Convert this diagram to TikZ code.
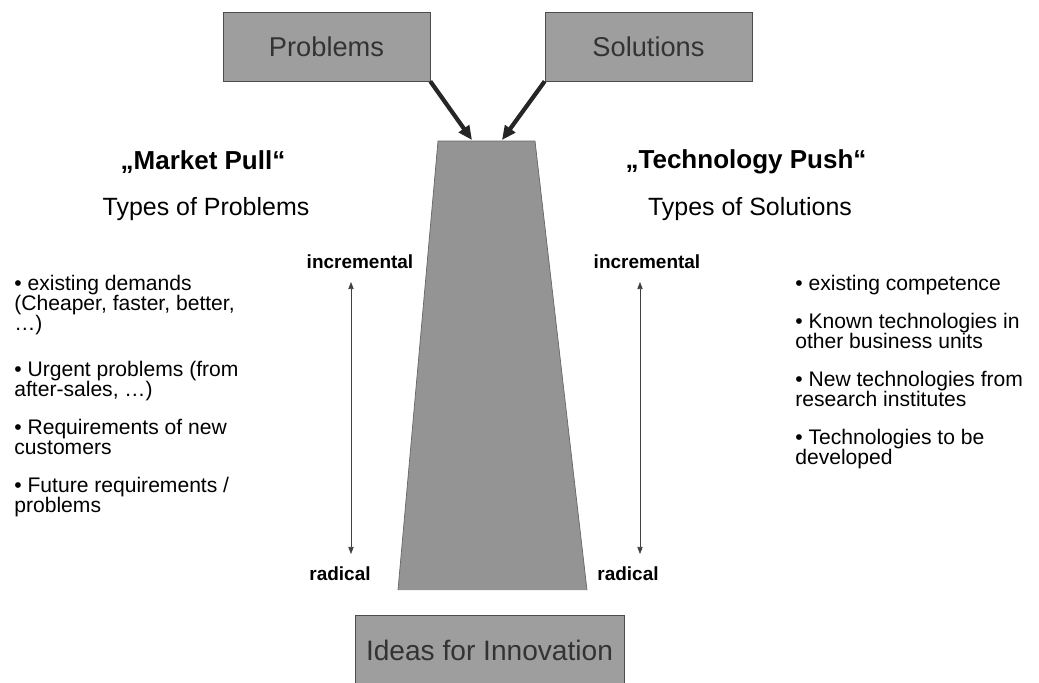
\documentclass[tikz,border=0pt]{standalone}
\usepackage{fontspec}
\setmainfont{Liberation Sans}
\usetikzlibrary{arrows.meta, positioning}

\begin{document}
\begin{tikzpicture}[
  x=0.02cm, y=-0.02cm,
  box/.style={draw=black!70, fill=black!38, minimum width=4.14cm, minimum height=1.38cm, font=\fontsize{15.5}{17}\selectfont, text=black!80},
  push/.style={-{Triangle[length=8pt,width=7pt]}, line width=2.4pt, black!85},
  spanarrow/.style={{Triangle[length=4pt,width=3pt]}-{Triangle[length=4pt,width=3pt]}, black!75, thin},
  head/.style={font=\bfseries\fontsize{14.8}{16}\selectfont},
  sub/.style={font=\fontsize{14.2}{16}\selectfont},
  tag/.style={font=\bfseries\fontsize{10.8}{12}\selectfont},
  item/.style={anchor=north west, align=left, inner sep=0pt, font=\fontsize{12}{11.4}\selectfont}]

  \useasboundingbox (0,0) rectangle (1039,683);
  \clip (0,0) rectangle (1039,683);

  \node[box] (problems) at (326.5,46.5) {Problems};
  \node[box] (solutions) at (648.5,46.5) {Solutions};

  % funnel
  \coordinate (ftl) at (438,141);
  \coordinate (ftr) at (535,141);
  \coordinate (fbl) at (398,590);
  \coordinate (fbr) at (587,590);
  \fill[black!42] (ftl) -- (ftr) -- (fbr) -- (fbl) -- cycle;
  \draw[black!60, thin] (fbl) -- (ftl) -- (ftr) -- (fbr);

  \draw[push] (problems.south east) -- (472,140);
  \draw[push] (solutions.south west) -- (502,140);

  \node[box, minimum width=5.38cm, font=\fontsize{16}{18}\selectfont] (ideas) at (489.5,650) {Ideas for Innovation};

  \node[head] (pull) at (203,162) {„Market Pull“};
  \node[sub] (probtypes) at (206,209) {Types of Problems};
  \node[head] (techpush) at (746,162) {„Technology Push“};
  \node[sub] (soltypes) at (750,209) {Types of Solutions};

  % incremental / radical scales
  \node[tag] (incl) at (360,262) {incremental};
  \node[tag] (radl) at (340,574) {radical};
  \node[tag] (incr) at (647,262) {incremental};
  \node[tag] (radr) at (628,574) {radical};
  \draw[spanarrow] (351,282) -- (351,554);
  \draw[spanarrow] (640,282) -- (640,554);

  % left list
  \node[item] (p1) at (14,275) {• existing demands\\(Cheaper, faster, better,\\…)};
  \node[item] (p2) at (14,361) {• Urgent problems (from\\after-sales, …)};
  \node[item] (p3) at (14,419) {• Requirements of new\\customers};
  \node[item] (p4) at (14,477) {• Future requirements /\\problems};

  % right list
  \node[item] (s1) at (795,275) {• existing competence};
  \node[item] (s2) at (795,313) {• Known technologies in\\other business units};
  \node[item] (s3) at (795,371) {• New technologies from\\research institutes};
  \node[item] (s4) at (795,429) {• Technologies to be\\developed};
\end{tikzpicture}
\end{document}
